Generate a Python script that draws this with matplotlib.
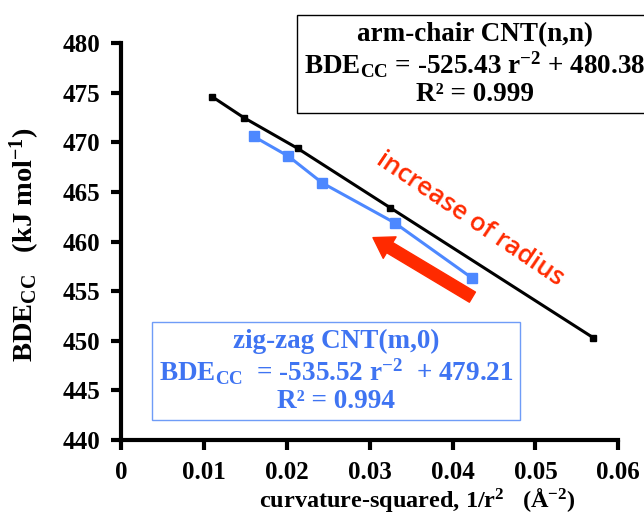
import matplotlib
matplotlib.use("Agg")
import matplotlib.pyplot as plt

plt.rcParams['font.family'] = 'Liberation Serif'
plt.rcParams['font.weight'] = 'bold'
plt.rcParams['axes.labelweight'] = 'bold'
plt.rcParams['mathtext.fontset'] = 'custom'
plt.rcParams['mathtext.rm'] = 'Liberation Serif:bold'
plt.rcParams['mathtext.it'] = 'Liberation Serif:bold'
plt.rcParams['mathtext.bf'] = 'Liberation Serif:bold'

# arm-chair CNT(n,n)
arm_x = [0.0110, 0.0148, 0.0213, 0.0325, 0.0570]
arm_y = [474.6, 472.5, 469.4, 463.4, 450.3]
# zig-zag CNT(m,0)
zig_x = [0.0160, 0.0202, 0.0243, 0.0330, 0.0424]
zig_y = [470.6, 468.6, 465.9, 461.9, 456.3]

x_ticks = [0, 0.01, 0.02, 0.03, 0.04, 0.05, 0.06]
x_labels = ['0', '0.01', '0.02', '0.03', '0.04', '0.05', '0.06']
y_ticks = [440, 445, 450, 455, 460, 465, 470, 475, 480]

BLUE = '#4d88ff'
TXT_BLUE = '#3f74f2'
RED = '#ff2a00'

fig = plt.figure(figsize=(6.44, 5.14), dpi=100)
ax = fig.add_axes([0.188, 0.144, 0.772, 0.772])

ax.plot(arm_x, arm_y, color='black', lw=2.2, marker='s', ms=5, zorder=3)
ax.plot(zig_x, zig_y, color=BLUE, lw=2.2, marker='s', ms=6.5, zorder=3)

ax.set_xlim(0, 0.06)
ax.set_ylim(440, 480)
ax.set_xticks(x_ticks)
ax.set_xticklabels(x_labels)
ax.set_yticks(y_ticks)
ax.tick_params(axis='both', labelsize=18, width=3, length=7, direction='out', pad=8)
for s in ['top', 'right']:
    ax.spines[s].set_visible(False)
for s in ['left', 'bottom']:
    ax.spines[s].set_linewidth(3)

ax.set_xlabel(r'curvature-squared, 1/r$^{2}$   ($\mathrm{\AA}^{-2}$)', fontsize=17.5, va='center')
ax.xaxis.set_label_coords(0.596, -0.15)
ax.set_ylabel(r'BDE$_{\mathrm{CC}}$   (kJ mol$^{-1}$)', fontsize=20.5, va='center')
ax.yaxis.set_label_coords(-0.193, 0.491)

# arrow "increase of radius"
ax.annotate('', xy=(0.0304, 460.4), xytext=(0.0424, 454.4),
            arrowprops=dict(arrowstyle='simple,head_width=1.8,head_length=1.4,tail_width=0.85',
                            mutation_scale=10, color=RED, shrinkA=0, shrinkB=0),
            zorder=4)
ax.text(0.0421, 462.3, 'increase of radius', color=RED, fontsize=18.5,
        family='Open Sans', fontweight='semibold', rotation=-34,
        ha='center', va='center', rotation_mode='anchor')

# equation boxes
fig.text(0.737, 0.875, 'arm-chair CNT(n,n)\n'
         r'BDE$_{\mathrm{CC}}$ = -525.43 r$^{-2}$ + 480.38' '\nR² = 0.999',
         ha='center', va='center', fontsize=19.5, linespacing=1.1,
         bbox=dict(boxstyle='square,pad=0.25', fc='white', ec='black', lw=1))
fig.text(0.522, 0.278, 'zig-zag CNT(m,0)\n'
         r'BDE$_{\mathrm{CC}}$  = -535.52 r$^{-2}$  + 479.21' '\nR² = 0.994',
         ha='center', va='center', fontsize=19.5, linespacing=1.1, color=TXT_BLUE,
         bbox=dict(boxstyle='square,pad=0.25', fc='white', ec='#6f9cf7', lw=1))

fig.savefig('out.png', dpi=100)
